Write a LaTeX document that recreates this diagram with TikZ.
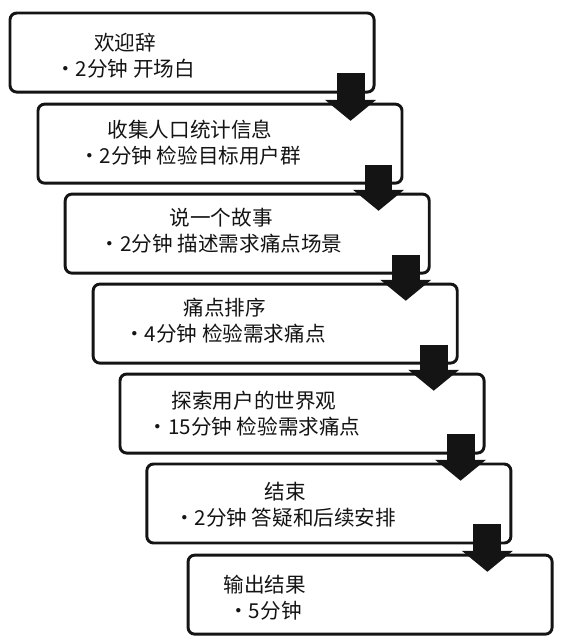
\documentclass[tikz,border=0pt]{standalone}
\usepackage{fontspec}
\newfontfamily\cjk{Noto Sans CJK SC}
\usepackage{tikz}
\usetikzlibrary{arrows.meta,positioning}
\definecolor{ink}{RGB}{20,20,20}
\tikzset{
  stagebox/.style={draw=ink,line width=2.2pt,rounded corners=5pt,fill=white,
    minimum width=9.63cm,minimum height=2.09cm},
  stagetext/.style={align=center,text=ink,
    font=\cjk\fontsize{15.5}{19.5}\selectfont},
  drop/.style={draw=ink,line width=21pt,
    -{Triangle[length=15.75pt,width=37.5pt]}},
}

\begin{document}
\begin{tikzpicture}
  \useasboundingbox (0,0) rectangle (15.19,-17.01);
  % stages
  \node[stagebox] (b1) at (5.08,-1.39) {};
  \node[stagebox] (b2) at (5.82,-3.80) {};
  \node[stagebox] (b3) at (6.54,-6.18) {};
  \node[stagebox] (b4) at (7.28,-8.56) {};
  \node[stagebox] (b5) at (7.99,-10.94) {};
  \node[stagebox] (b6) at (8.70,-13.32) {};
  \node[stagebox] (b7) at (9.79,-15.73) {};
  \node[stagetext] (t1) at (3.31,-1.48) {欢迎辞\\・2分钟 开场白};
  \node[stagetext] (t2) at (5.03,-3.78) {收集人口统计信息\\・2分钟 检验目标用户群};
  \node[stagetext] (t3) at (5.85,-6.11) {说一个故事\\・2分钟 描述需求痛点场景};
  \node[stagetext] (t4) at (5.95,-8.49) {痛点排序\\・4分钟 检验需求痛点};
  \node[stagetext] (t5) at (6.72,-10.95) {探索用户的世界观\\・15分钟 检验需求痛点};
  \node[stagetext] (t6) at (7.54,-13.36) {结束\\・2分钟 答疑和后续安排};
  \node[stagetext] (t7) at (7.01,-15.82) {输出结果\\・5分钟};
  % arrows between stages
  \foreach \a/\b in {b1/b2,b2/b3,b3/b4,b4/b5,b5/b6,b6/b7} {
    \coordinate (s) at ([shift={(-0.66,0.53)}]\a.south east);
    \coordinate (e) at (s |- \b.north);
    \draw[drop] (s) -- ([yshift=-0.48cm]e);
  }
\end{tikzpicture}
\end{document}
